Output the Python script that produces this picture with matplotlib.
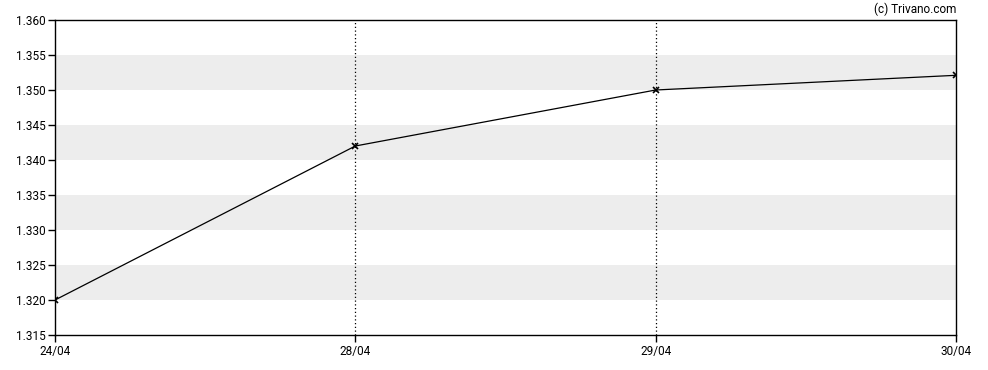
import matplotlib
matplotlib.use('Agg')
import matplotlib.pyplot as plt

dates = ['24/04', '28/04', '29/04', '30/04']
prices = [1.320, 1.342, 1.350, 1.3521]
yticks = [1.315, 1.320, 1.325, 1.330, 1.335, 1.340, 1.345, 1.350, 1.355, 1.360]

plt.rcParams['font.family'] = ['Roboto', 'DejaVu Sans']

fig = plt.figure(figsize=(9.88, 3.70), dpi=100)
ax = fig.add_axes([55/988, 1 - 335/370, (956 - 55)/988, (335 - 20)/370])

x = list(range(len(dates)))

# alternating grey bands
for lo in [1.320, 1.330, 1.340, 1.350]:
    ax.axhspan(lo, lo + 0.005, color='#ededed', lw=0, zorder=0)

# dotted verticals at inner dates
for xi in x[1:-1]:
    ax.axvline(xi, color='black', lw=0.9, ls=(0, (1, 2)), zorder=1)

ax.plot(x, prices, color='black', lw=0.9, marker='x', ms=4, mew=1.2, zorder=3)

ax.set_xlim(0, len(dates) - 1)
ax.set_ylim(1.315, 1.360)
ax.set_xticks(x)
ax.set_xticklabels(dates)
ax.set_yticks(yticks)
ax.set_yticklabels(['%.3f' % v for v in yticks])
ax.tick_params(direction='out', length=5, width=1, labelsize=8.5, colors='black', pad=2)
for s in ax.spines.values():
    s.set_linewidth(1)

fig.text(956/988, 1 - 9/370, '(c) Trivano.com', ha='right', va='center', fontsize=8.5)

fig.savefig('out.png', dpi=100)
